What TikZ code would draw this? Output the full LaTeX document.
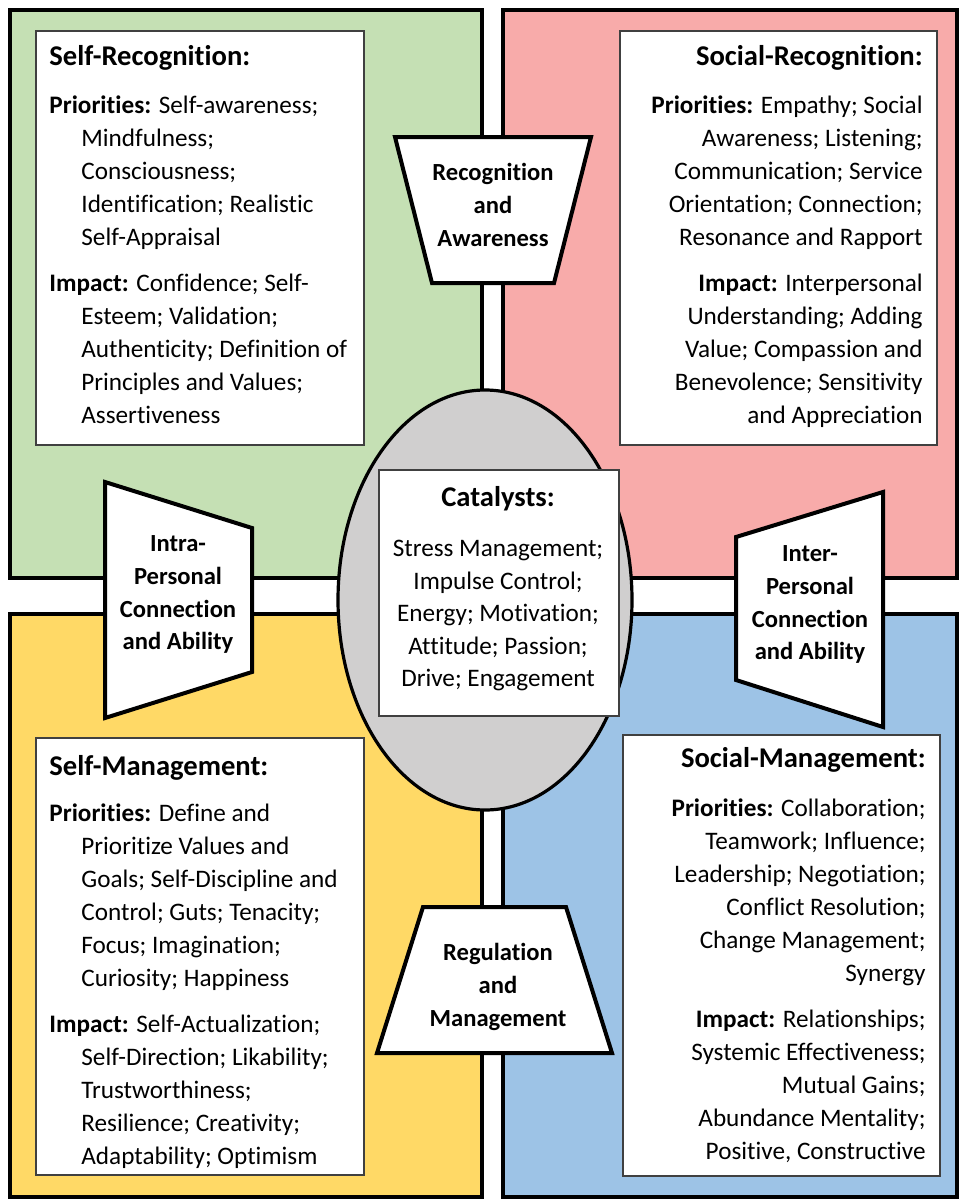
\documentclass[tikz,border=0pt]{standalone}
\usepackage{fontspec}
\setmainfont{Carlito}[Ligatures=NoCommon]
\definecolor{qgreen}{HTML}{C5E0B4}
\definecolor{qred}{HTML}{F8ABAA}
\definecolor{qyellow}{HTML}{FFD966}
\definecolor{qblue}{HTML}{9DC3E6}
\definecolor{egray}{HTML}{D0CFCF}
\newcommand{\ind}{\hspace*{16pt}}
\newcommand{\fl}{\rule{0pt}{12pt}}
\begin{document}
\begin{tikzpicture}[x=0.5pt,y=-0.5pt,
  quad/.style={draw=black, line width=2.2pt},
  wbox/.style={draw=black!75, line width=0.75pt, fill=white},
  trap/.style={draw=black, line width=2pt, fill=white, line join=miter},
  body/.style={inner sep=0pt, font=\fontsize{12.6}{16.5}\selectfont},
  cbody/.style={inner sep=0pt, align=center, font=\fontsize{12.6}{16.3}\selectfont},
  head/.style={inner sep=0pt, font=\bfseries\fontsize{14.3}{16.5}\selectfont},
  lab/.style={inner sep=0pt, align=center, anchor=north, font=\bfseries\fontsize{12.3}{16.4}\selectfont}]
\useasboundingbox (0,0) rectangle (960,1199);
% quadrants
\draw[quad, fill=qgreen] (10,10) rectangle (482,578);
\draw[quad, fill=qred] (503,10) rectangle (957,578);
\draw[quad, fill=qyellow] (10,614) rectangle (482,1197);
\draw[quad, fill=qblue] (503,614) rectangle (957,1197);
% white boxes
\draw[wbox] (36,31) rectangle (364,445);
\draw[wbox] (620,31) rectangle (937,445);
\draw[wbox] (36,738) rectangle (364,1175);
\draw[wbox] (623,735) rectangle (940,1176);
% centre ellipse
\draw[line width=1.6pt, fill=egray] (485,600) ellipse [x radius=147, y radius=210];
\draw[wbox] (379,470) rectangle (619,716);
% trapezoids
\draw[trap] (395,137) -- (591,137) -- (554,283) -- (432,283) -- cycle;
\draw[trap] (105,482) -- (252,528) -- (252,672) -- (105,718) -- cycle;
\draw[trap] (883,492) -- (883,727) -- (736,680) -- (736,537) -- cycle;
\draw[trap] (423,907) -- (566,907) -- (612,1053) -- (377,1053) -- cycle;
% headings
\node[head, anchor=base west] (h1) at (49,65) {Self-Recognition:};
\node[head, anchor=base east] (h2) at (923,65) {Social-Recognition:};
\node[head, anchor=base west] (h3) at (49,775) {Self-Management:};
\node[head, anchor=base east] (h4) at (926,767) {Social-Management:};
\node[head, anchor=base] (h5) at (498,506) {Catalysts:};
% bodies
\node[body, align=left, anchor=north west] (b1) at (49,89) {\fl\textbf{Priorities:} Self-awareness;\\
\ind Mindfulness;\\
\ind Consciousness;\\
\ind Identification; Realistic\\
\ind Self-Appraisal\\[6.5pt]
\textbf{Impact:} Confidence; Self-\\
\ind Esteem; Validation;\\
\ind Authenticity; Definition of\\
\ind Principles and Values;\\
\ind Assertiveness};
\node[body, align=right, anchor=north east] (b2) at (923,89) {\fl\textbf{Priorities:} Empathy; Social\\
Awareness; Listening;\\
Communication; Service\\
Orientation; Connection;\\
Resonance and Rapport\\[6.5pt]
\textbf{Impact:} Interpersonal\\
Understanding; Adding\\
Value; Compassion and\\
Benevolence; Sensitivity\\
and Appreciation};
\node[body, align=left, anchor=north west] (b3) at (49,797) {\fl\textbf{Priorities:} Define and\\
\ind Prioritize Values and\\
\ind Goals; Self-Discipline and\\
\ind Control; Guts; Tenacity;\\
\ind Focus; Imagination;\\
\ind Curiosity; Happiness\\[6.5pt]
\textbf{Impact:} Self-Actualization;\\
\ind Self-Direction; Likability;\\
\ind Trustworthiness;\\
\ind Resilience; Creativity;\\
\ind Adaptability; Optimism};
\node[body, align=right, anchor=north east] (b4) at (926,792) {\fl\textbf{Priorities:} Collaboration;\\
Teamwork; Influence;\\
Leadership; Negotiation;\\
Conflict Resolution;\\
Change Management;\\
Synergy\\[6.5pt]
\textbf{Impact:} Relationships;\\
Systemic Effectiveness;\\
Mutual Gains;\\
Abundance Mentality;\\
Positive, Constructive};
\node[cbody, anchor=north] (b5) at (498,532) {\fl Stress Management;\\
Impulse Control;\\
Energy; Motivation;\\
Attitude; Passion;\\
Drive; Engagement};
% trapezoid labels
\node[lab] (l1) at (493,156) {\fl Recognition\\and\\Awareness};
\node[lab] (l2) at (178,527) {\fl Intra-\\Personal\\Connection\\and Ability};
\node[lab] (l3) at (810,537) {\fl Inter-\\Personal\\Connection\\and Ability};
\node[lab] (l4) at (498,936) {\fl Regulation\\and\\Management};
\end{tikzpicture}
\end{document}
